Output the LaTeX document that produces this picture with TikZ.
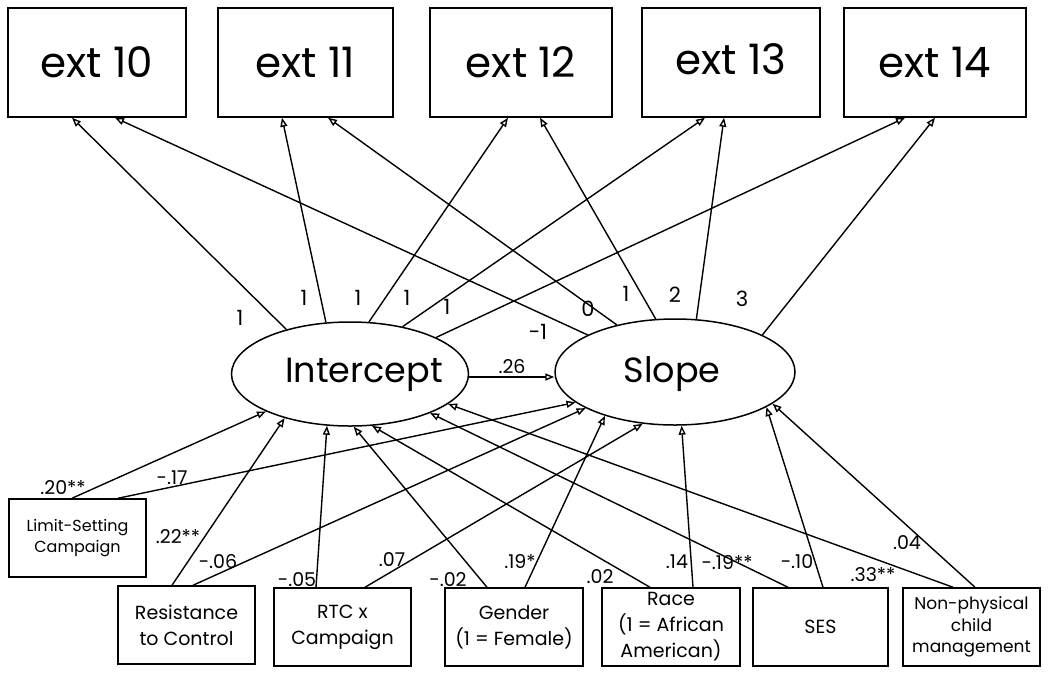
\documentclass[tikz,border=0pt]{standalone}
\usepackage{fontspec}
\setmainfont{Poppins}
\usetikzlibrary{arrows.meta,shapes.geometric,calc}
\begin{document}
\begin{tikzpicture}[x=1pt,y=-1pt,
  obs/.style={draw,line width=1.5pt,inner sep=0pt,align=center},
  topbox/.style={obs,minimum height=109pt,font=\fontsize{42}{46}\selectfont},
  pred/.style={obs,minimum height=78pt,minimum width=137pt,font=\fontsize{19}{26}\selectfont},
  lat/.style={draw,line width=1.5pt,ellipse,inner sep=0pt},
  lattext/.style={inner sep=0pt,anchor=base,font=\fontsize{35}{40}\selectfont},
  arr/.style={-{Triangle[open,length=9pt,width=7pt]},line width=1.4pt},
  lab/.style={inner sep=0pt,font=\fontsize{19}{22}\selectfont},
  tlab/.style={inner sep=0pt,font=\fontsize{21}{24}\selectfont}]
\useasboundingbox[fill=white] (0,0) rectangle (1050,681);

% observed outcomes
\node[topbox,minimum width=178pt] (e10) at (97,62.5) {ext 10};
\node[topbox,minimum width=175pt] (e11) at (305.5,62.5) {ext 11};
\node[topbox,minimum width=182pt] (e12) at (521,62.5) {ext 12};
\node[topbox,minimum width=178pt] (e13) at (731,62.5) {\raisebox{6pt}{ext 13}};
\node[topbox,minimum width=182pt] (e14) at (935,62.5) {ext 14};

% latent factors
\node[lat,minimum width=237pt,minimum height=104pt] (I) at (350,374) {};
\node[lattext] (It) at (364,382) {Intercept};
\node[lat,minimum width=240pt,minimum height=106pt] (S) at (675,372) {};
\node[lattext] (St) at (672,382) {Slope};

% predictors
\node[pred,font=\fontsize{16}{21}\selectfont] (lim) at (77.5,538) {Limit-Setting\\Campaign};
\node[pred] (res) at (186.5,625) {Resistance\\to Control};
\node[pred] (rtc) at (342.5,627) {RTC x\\Campaign};
\node[pred,minimum width=138pt] (gen) at (514,627) {Gender\\(1 = Female)};
\node[pred,minimum width=138pt] (race) at (671,627) {Race\\(1 = African\\American)};
\node[pred,minimum width=135pt] (ses) at (820.5,627) {SES};
\node[pred,font=\fontsize{17}{21.5}\selectfont] (np) at (971.5,627) {Non-physical\\child\\management};

% loadings
\draw[arr] (I.145.6) -- ([xshift=-25pt]e10.south);
\draw[arr] (I.115.2) -- ([xshift=-23.5pt]e11.south);
\draw[arr] (I.70.6) -- ([xshift=-13pt]e12.south);
\draw[arr] (I.42.5) -- ([xshift=-26pt]e13.south);
\draw[arr] (I.23.6) -- ([xshift=-30pt]e14.south);
\draw[arr] (S.157.4) -- ([xshift=18pt]e10.south);
\draw[arr] (S.141.3) -- ([xshift=22.5pt]e11.south);
\draw[arr] (S.110.4) -- ([xshift=19pt]e12.south);
\draw[arr] (S.68) -- ([xshift=-7pt]e13.south);
\draw[arr] (S.23.4) -- ([xshift=0pt]e14.south);
\draw[arr] ([yshift=-3pt]I.east) -- ([yshift=-5pt]S.west);

% loading labels
\node[tlab] (t1) at (240,318) {1};
\node[tlab] (t2) at (304,298) {1};
\node[tlab] (t3) at (358,298) {1};
\node[tlab] (t4) at (407,298) {1};
\node[tlab] (t5) at (447,307) {1};
\node[tlab] (t6) at (538,332) {-1};
\node[tlab] (t7) at (588,309) {0};
\node[tlab] (t8) at (626,294) {1};
\node[tlab] (t9) at (675,295) {2};
\node[tlab] (t10) at (742,299) {3};
\node[lab] (t11) at (512,367) {.26};

% predictor paths
\draw[arr] ([xshift=-5.5pt]lim.north) -- (I.204.3);
\draw[arr] ([xshift=40.5pt]lim.north) -- (S.197.9);
\draw[arr] ([xshift=-14.5pt]res.north) -- (I.214.4);
\draw[arr] ([xshift=6.5pt]res.north) -- (S.202.7);
\draw[arr] ([xshift=-26.5pt]rtc.north) -- (I.246.9);
\draw[arr] ([xshift=22.5pt]rtc.north) -- (S.238.9);
\draw[arr] ([xshift=-27pt]gen.north) -- (I.274.2);
\draw[arr] ([xshift=11pt]gen.north) -- (S.212.2);
\draw[arr] ([xshift=-21pt]race.north) -- (I.293.1);
\draw[arr] ([xshift=22pt]race.north) -- (S.277.1);
\draw[arr] ([xshift=-32.5pt]ses.north) -- (I.334.8);
\draw[arr] ([xshift=2.5pt]ses.north) -- (S.339.2);
\draw[arr] ([xshift=-18.5pt]np.north) -- (I.343.6);
\draw[arr] ([xshift=3.5pt]np.north) -- (S.342.6);

% path labels
\node[lab] (b1) at (63,488) {.20**};
\node[lab] (b2) at (172,478) {-.17};
\node[lab] (b3) at (178,537) {.22**};
\node[lab] (b4) at (218,562) {-.06};
\node[lab] (b5) at (297,580) {-.05};
\node[lab] (b6) at (392,560) {.07};
\node[lab] (b7) at (448,580) {-.02};
\node[lab] (b8) at (520,562) {.19*};
\node[lab] (b9) at (600,577) {.02};
\node[lab] (b10) at (677,562) {.14};
\node[lab] (b11) at (727,563) {-.19**};
\node[lab] (b12) at (797,562) {-.10};
\node[lab] (b13) at (873,575) {.33**};
\node[lab] (b14) at (907,543) {.04};
\end{tikzpicture}
\end{document}
